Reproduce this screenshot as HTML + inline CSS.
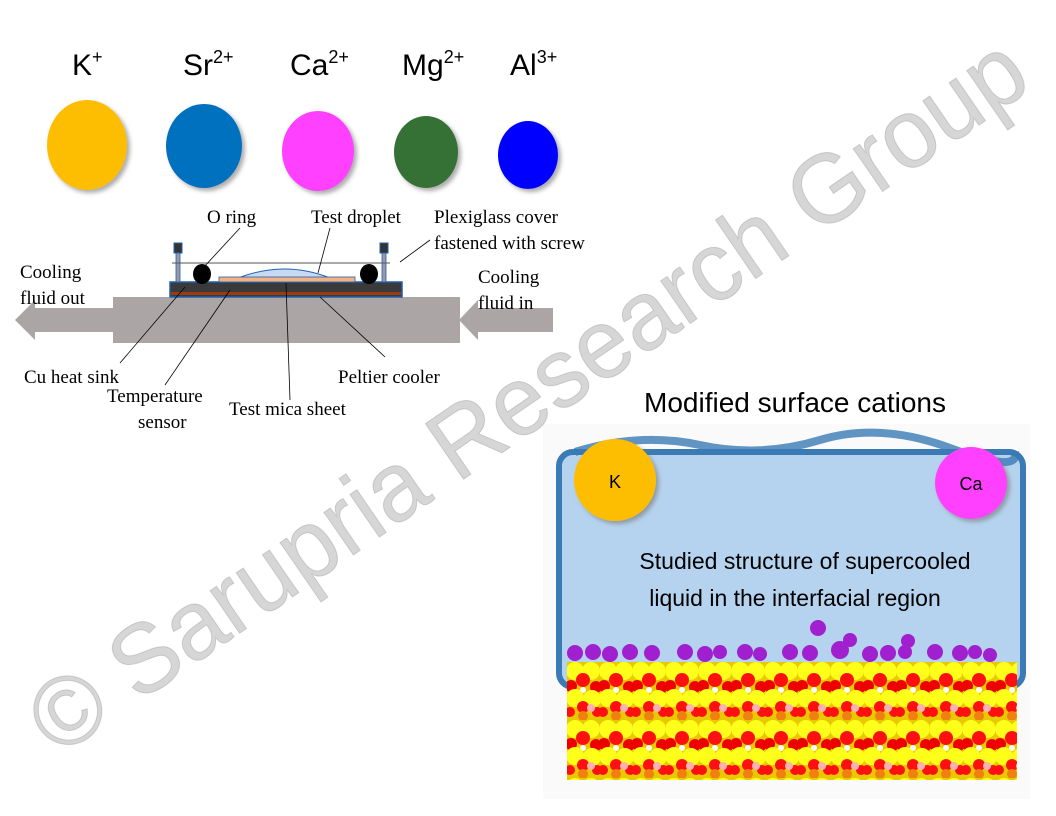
<!DOCTYPE html>
<html><head><meta charset="utf-8"><style>
html,body{margin:0;padding:0;background:#fff}
svg{display:block}
.lab{font-family:"Liberation Serif",serif;font-size:19px;fill:#000}
.ion{font-family:"Liberation Sans",sans-serif;font-size:30px;fill:#000}
</style></head><body>
<svg width="1056" height="816" viewBox="0 0 1056 816" xmlns="http://www.w3.org/2000/svg">
<defs>
<filter id="sh" x="-20%" y="-20%" width="150%" height="150%"><feDropShadow dx="3" dy="3" stdDeviation="2" flood-color="#777" flood-opacity="0.6"/></filter>
<pattern id="mica" x="567" y="662" width="33" height="58" patternUnits="userSpaceOnUse">
<rect width="33" height="58" fill="#e8c800"/>
<circle cx="8" cy="9" r="9" fill="#ffff1a"/><circle cx="24" cy="9" r="9" fill="#ffff1a"/>
<circle cx="16" cy="18" r="7" fill="#ff1010"/><circle cx="4" cy="24" r="6" fill="#ee0000"/><circle cx="29" cy="25" r="6" fill="#ee0000"/>
<circle cx="16" cy="28" r="3" fill="#fff"/>
<circle cx="8" cy="36" r="9" fill="#ffff1a"/><circle cx="25" cy="37" r="9" fill="#ffff1a"/>
<circle cx="16" cy="45" r="6" fill="#ff1010"/><circle cx="3" cy="50" r="5" fill="#ff1010"/><circle cx="30" cy="50" r="5" fill="#ff1010"/>
<circle cx="16" cy="54" r="5" fill="#f08010"/><circle cx="24" cy="46" r="4" fill="#ffb0b0"/>
</pattern>
</defs>

<!-- ion labels -->
<text class="ion" x="72" y="75">K<tspan font-size="18" dy="-12">+</tspan></text>
<text class="ion" x="183" y="75">Sr<tspan font-size="18" dy="-12">2+</tspan></text>
<text class="ion" x="290" y="75">Ca<tspan font-size="18" dy="-12">2+</tspan></text>
<text class="ion" x="402" y="75">Mg<tspan font-size="18" dy="-12">2+</tspan></text>
<text class="ion" x="510" y="75">Al<tspan font-size="18" dy="-12">3+</tspan></text>
<g filter="url(#sh)">
<ellipse cx="87" cy="145" rx="40" ry="45" fill="#fdbd00"/>
<ellipse cx="204" cy="146" rx="38" ry="42" fill="#0071bf"/>
<ellipse cx="318" cy="151" rx="36" ry="40" fill="#ff40ff"/>
<ellipse cx="426" cy="152" rx="32" ry="36" fill="#366f36"/>
<ellipse cx="528" cy="155" rx="30" ry="34" fill="#0000ff"/>
</g>

<!-- apparatus -->
<rect x="113" y="297" width="347" height="46" fill="#aba5a5"/>
<polygon points="15,320 35,300 35,308 113,308 113,332 35,332 35,340" fill="#aba5a5"/>
<polygon points="459,320 478,300 478,308 553,308 553,332 478,332 478,340" fill="#aba5a5"/>
<rect x="170" y="282" width="232" height="15" fill="#3a3a3a" stroke="#2060b0" stroke-width="1.5"/>
<rect x="171" y="292" width="230" height="3" fill="#9c3a14"/>
<rect x="174" y="243" width="8" height="10" fill="#333" stroke="#2060b0"/>
<rect x="176" y="253" width="4" height="29" fill="#99a" stroke="#2060b0" stroke-width="0.8"/>
<rect x="380" y="243" width="8" height="10" fill="#333" stroke="#2060b0"/>
<rect x="382" y="253" width="4" height="29" fill="#99a" stroke="#2060b0" stroke-width="0.8"/>
<line x1="172" y1="263" x2="390" y2="263" stroke="#555" stroke-width="1"/>
<ellipse cx="202" cy="274" rx="9" ry="10" fill="#000"/>
<ellipse cx="369" cy="274" rx="9" ry="10" fill="#000"/>
<path d="M238,278 Q285,260 330,278 Z" fill="#c8daf2" stroke="#2060b0"/>
<rect x="219" y="277" width="136" height="5" fill="#f4b183" stroke="#2060b0" stroke-width="0.8"/>
<g stroke="#000" stroke-width="0.8" fill="none">
<line x1="240" y1="228" x2="203" y2="268"/>
<line x1="330" y1="228" x2="318" y2="273"/>
<line x1="430" y1="240" x2="400" y2="262"/>
<line x1="120" y1="363" x2="185" y2="287"/>
<line x1="165" y1="385" x2="230" y2="290"/>
<line x1="290" y1="400" x2="286" y2="283"/>
<line x1="385" y1="357" x2="320" y2="297"/>
</g>
<text class="lab" x="207" y="223">O ring</text>
<text class="lab" x="311" y="223">Test droplet</text>
<text class="lab" x="434" y="223">Plexiglass cover</text>
<text class="lab" x="434" y="249">fastened with screw</text>
<text class="lab" x="20" y="278">Cooling</text>
<text class="lab" x="20" y="304">fluid out</text>
<text class="lab" x="478" y="283">Cooling</text>
<text class="lab" x="478" y="309">fluid in</text>
<text class="lab" x="24" y="383">Cu heat sink</text>
<text class="lab" x="107" y="402">Temperature</text>
<text class="lab" x="138" y="428">sensor</text>
<text class="lab" x="229" y="415">Test mica sheet</text>
<text class="lab" x="338" y="383">Peltier cooler</text>

<!-- simulation -->
<text x="795" y="412" text-anchor="middle" font-family="Liberation Sans,sans-serif" font-size="28">Modified surface cations</text>
<rect x="543" y="424" width="487" height="375" fill="#fafafa"/>
<rect x="559" y="452" width="464" height="235" rx="14" fill="#b5d3ee" stroke="#3a7ab5" stroke-width="6"/>
<path d="M575,452 Q640,432 700,445 T820,440 T950,448 T1015,452" fill="none" stroke="#3a7ab5" stroke-width="8" opacity="0.8"/>
<rect x="567" y="662" width="450" height="118" fill="url(#mica)"/>
<g fill="#a020d0">
<circle cx="575" cy="653" r="8"/><circle cx="593" cy="652" r="8"/><circle cx="610" cy="654" r="8"/><circle cx="630" cy="652" r="8"/><circle cx="652" cy="653" r="8"/>
<circle cx="685" cy="652" r="8"/><circle cx="705" cy="654" r="8"/><circle cx="720" cy="652" r="7"/><circle cx="745" cy="652" r="8"/><circle cx="760" cy="654" r="7"/>
<circle cx="790" cy="652" r="8"/><circle cx="810" cy="653" r="8"/><circle cx="818" cy="628" r="8"/><circle cx="840" cy="650" r="9"/><circle cx="850" cy="640" r="7"/>
<circle cx="870" cy="654" r="8"/><circle cx="888" cy="653" r="8"/><circle cx="905" cy="652" r="7"/><circle cx="908" cy="641" r="7"/><circle cx="935" cy="652" r="8"/>
<circle cx="960" cy="653" r="8"/><circle cx="975" cy="652" r="7"/><circle cx="990" cy="655" r="7"/>
</g>
<g filter="url(#sh)">
<circle cx="615" cy="480" r="41" fill="#fdbd00"/>
<circle cx="971" cy="483" r="36" fill="#ff40ff"/>
</g>
<text x="615" y="488" text-anchor="middle" font-family="Liberation Sans,sans-serif" font-size="18">K</text>
<text x="971" y="490" text-anchor="middle" font-family="Liberation Sans,sans-serif" font-size="18">Ca</text>
<text x="805" y="569" text-anchor="middle" font-family="Liberation Sans,sans-serif" font-size="23">Studied structure of supercooled</text>
<text x="795" y="606" text-anchor="middle" font-family="Liberation Sans,sans-serif" font-size="23">liquid in the interfacial region</text>

<!-- watermark -->
<text x="0" y="0" transform="translate(58,758) rotate(-34.5)" font-family="Liberation Sans,sans-serif" font-size="98" fill="#c8c8c8" fill-opacity="0.75" stroke="#999" stroke-opacity="0.4" stroke-width="1" textLength="1185" lengthAdjust="spacingAndGlyphs">© Sarupria Research Group</text>
</svg>
</body></html>
